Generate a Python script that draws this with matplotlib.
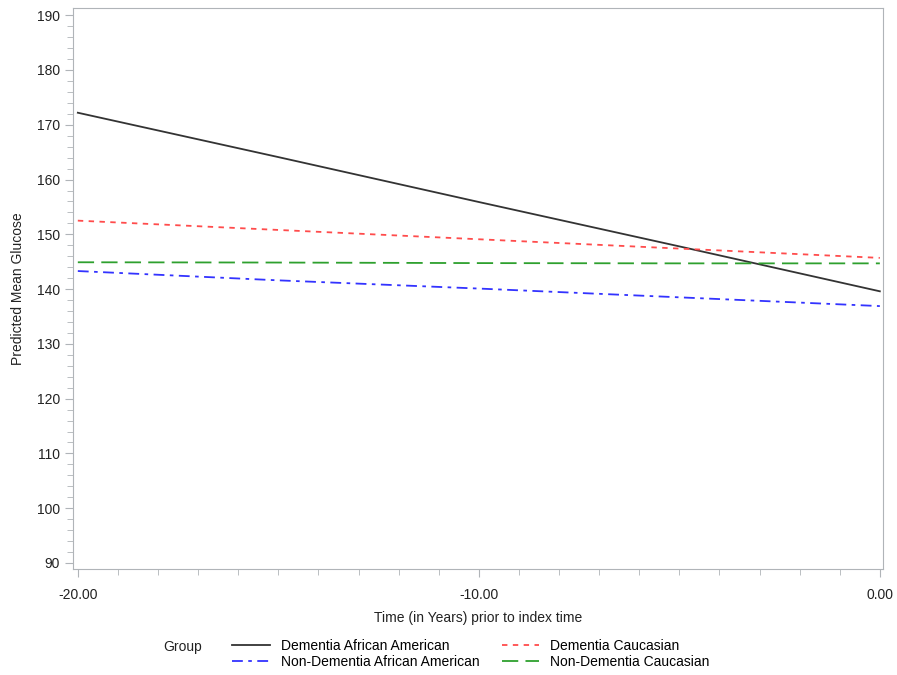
import numpy as np
import matplotlib.pyplot as plt
from matplotlib.ticker import MultipleLocator, FormatStrFormatter

plt.rcParams['font.family'] = ['Liberation Sans', 'DejaVu Sans']

# predicted mean glucose by years prior to index time
years = [-20, -15, -10, -5, 0]
dem_aa = [172.2, 164.1, 155.9, 147.8, 139.6]
dem_cau = [152.5, 150.8, 149.1, 147.4, 145.7]
nondem_aa = [143.3, 141.6, 140.1, 138.5, 136.9]
nondem_cau = [144.9, 144.85, 144.75, 144.7, 144.7]

fig = plt.figure(figsize=(8.97, 6.75), dpi=100)
ax = fig.add_axes([0.0814, 0.157, 0.9026, 0.831])

l1, = ax.plot(years, dem_aa, color='#333333', lw=1.3, label='Dementia African American')
l2, = ax.plot(years, dem_cau, color='#FF4C4C', lw=1.3, dashes=(3, 3), label='Dementia Caucasian')
l3, = ax.plot(years, nondem_aa, color='#3333FF', lw=1.3, dashes=(6, 3, 2, 3), label='Non-Dementia African American')
l4, = ax.plot(years, nondem_cau, color='#2EA02E', lw=1.3, dashes=(9, 4), label='Non-Dementia Caucasian')

ax.set_xlim(-20.12, 0.07)
ax.set_ylim(88.9, 191.3)
ax.xaxis.set_major_locator(MultipleLocator(10))
ax.xaxis.set_minor_locator(MultipleLocator(1))
ax.xaxis.set_major_formatter(FormatStrFormatter('%.2f'))
ax.yaxis.set_major_locator(MultipleLocator(10))
ax.yaxis.set_minor_locator(MultipleLocator(2))

for s in ax.spines.values():
    s.set_color('#B0B4B8')
ax.tick_params(which='both', colors='#B0B4B8', labelcolor='#222222', labelsize=10)
ax.tick_params(which='major', length=6)
ax.tick_params(which='minor', length=4)
ax.tick_params(axis='x', pad=8)

ax.set_xlabel('Time (in Years) prior to index time', fontsize=10, color='#222222', labelpad=6)
ax.set_ylabel('Predicted Mean Glucose', fontsize=10, color='#222222', labelpad=8)

fig.legend(handles=[l1, l3, l2, l4], ncol=2, loc='center left',
           bbox_to_anchor=(0.245, 0.031), frameon=False, fontsize=10,
           handlelength=2.7, handletextpad=0.8, columnspacing=1.6, labelspacing=0.15)
fig.text(0.182, 0.041, 'Group', fontsize=10, color='#222222', va='center')

fig.savefig('out.png', dpi=100)
